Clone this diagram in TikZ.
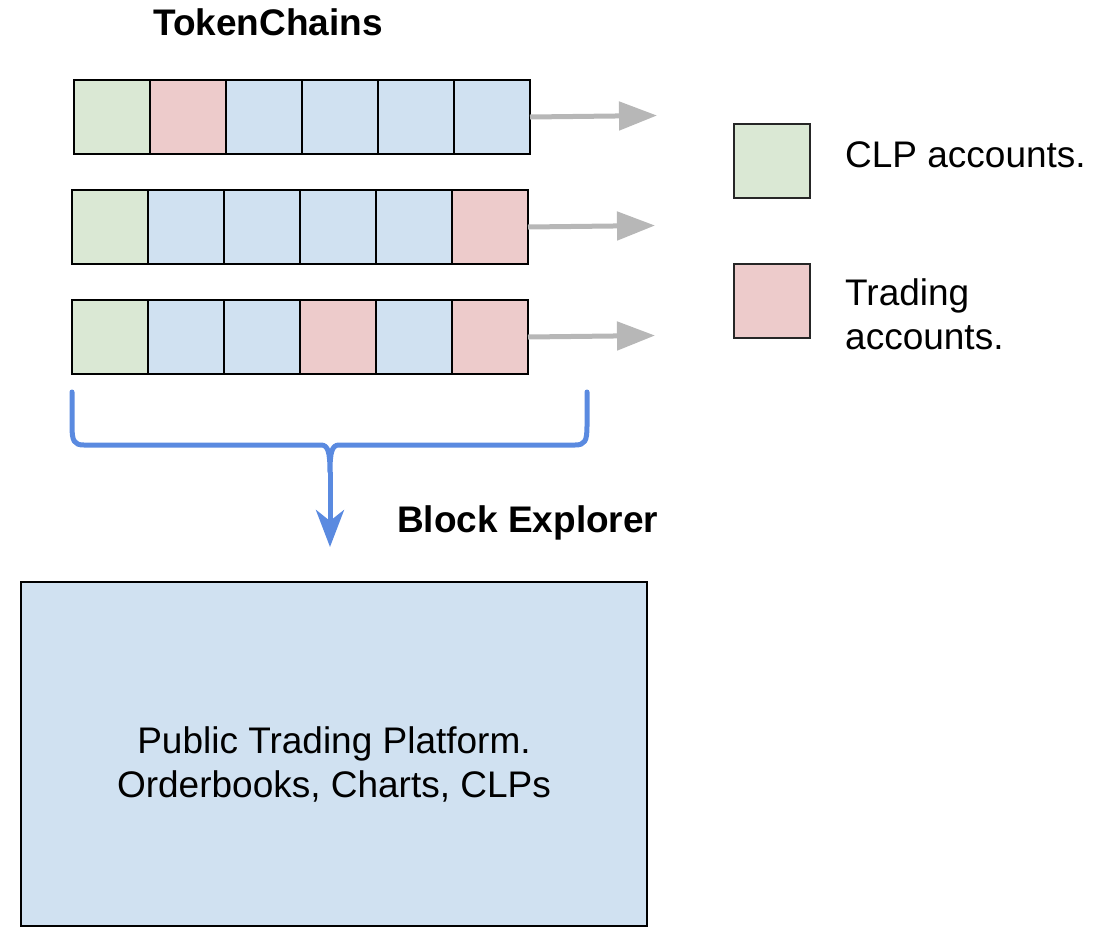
\documentclass[tikz,border=0pt]{standalone}
\usepackage{fontspec}
\setmainfont{Liberation Sans}
\usetikzlibrary{arrows.meta}
\definecolor{cgreen}{HTML}{DAE8D4}
\definecolor{cpink}{HTML}{EDCBCB}
\definecolor{cblue}{HTML}{D0E1F1}
\definecolor{cgray}{HTML}{B7B7B7}
\definecolor{cbrace}{HTML}{5A8AE0}
\tikzset{
  cell/.style={draw=black, line width=2.5pt, minimum width=76pt, minimum height=74pt, inner sep=0pt, outer sep=0pt},
  legbox/.style={draw=black!85, line width=2pt, minimum width=76pt, minimum height=74pt, inner sep=0pt},
  grayarrow/.style={draw=cgray, line width=5pt, -{Triangle[length=38pt,width=28pt]}},
  txt/.style={inner sep=0pt, font=\fontsize{37}{44}\selectfont},
  boldtxt/.style={inner sep=0pt, font=\fontsize{37}{44}\selectfont\bfseries},
}
\begin{document}
\begin{tikzpicture}[x=1pt,y=-1pt]
\useasboundingbox (0,0) rectangle (1096,938);
% row 1
\node[cell, fill=cgreen] (r1c1) at (112,117) {};
\node[cell, fill=cpink]  (r1c2) at (188,117) {};
\node[cell, fill=cblue]  (r1c3) at (264,117) {};
\node[cell, fill=cblue]  (r1c4) at (340,117) {};
\node[cell, fill=cblue]  (r1c5) at (416,117) {};
\node[cell, fill=cblue]  (r1c6) at (492,117) {};
% row 2
\node[cell, fill=cgreen] (r2c1) at (110,227) {};
\node[cell, fill=cblue]  (r2c2) at (186,227) {};
\node[cell, fill=cblue]  (r2c3) at (262,227) {};
\node[cell, fill=cblue]  (r2c4) at (338,227) {};
\node[cell, fill=cblue]  (r2c5) at (414,227) {};
\node[cell, fill=cpink]  (r2c6) at (490,227) {};
% row 3
\node[cell, fill=cgreen] (r3c1) at (110,337) {};
\node[cell, fill=cblue]  (r3c2) at (186,337) {};
\node[cell, fill=cblue]  (r3c3) at (262,337) {};
\node[cell, fill=cpink]  (r3c4) at (338,337) {};
\node[cell, fill=cblue]  (r3c5) at (414,337) {};
\node[cell, fill=cpink]  (r3c6) at (490,337) {};
% gray arrows
\coordinate (t1) at (657,115.5);
\coordinate (t2) at (655,225.5);
\coordinate (t3) at (655,335.5);
\draw[grayarrow] (r1c6.east) -- (t1);
\draw[grayarrow] (r2c6.east) -- (t2);
\draw[grayarrow] (r3c6.east) -- (t3);
% title
\node[boldtxt, anchor=base] (title) at (268,35) {TokenChains};
% legend
\node[legbox, fill=cgreen] (lg1) at (772,161) {};
\node[legbox, fill=cpink]  (lg2) at (772,301) {};
\node[txt, anchor=base west] (lt1) at (845,167) {CLP accounts.};
\node[txt, anchor=base west] (lt2a) at (845,305) {Trading};
\node[txt, anchor=base west] (lt2b) at (845,349) {accounts.};
% brace
\coordinate (bl) at (72,392);
\coordinate (br) at (587,392);
\coordinate (bm) at (330,472);
\coordinate (btip) at (330,547);
\draw[cbrace, line width=5pt, line cap=round, line join=round]
  (bl) -- (72,426) .. controls (72,441) and (74,445) .. (84,445)
  -- (321,445) .. controls (328,445) and (330,452) .. (bm)
  .. controls (330,452) and (332,445) .. (339,445)
  -- (575,445) .. controls (585,445) and (587,441) .. (587,426) -- (br);
\draw[cbrace, line width=5pt, -{Stealth[length=37pt,width=28pt,inset=11pt]}] (bm) -- (btip);
\node[boldtxt, anchor=base west] (be) at (397,532) {Block Explorer};
% big box
\node[draw=black, line width=1.5pt, fill=cblue, minimum width=626pt, minimum height=344pt, inner sep=0pt] (plat) at (334,754) {};
\node[txt, anchor=base] (p1) at (334,753) {Public Trading Platform.};
\node[txt, anchor=base] (p2) at (334,797) {Orderbooks, Charts, CLPs};
\end{tikzpicture}
\end{document}
